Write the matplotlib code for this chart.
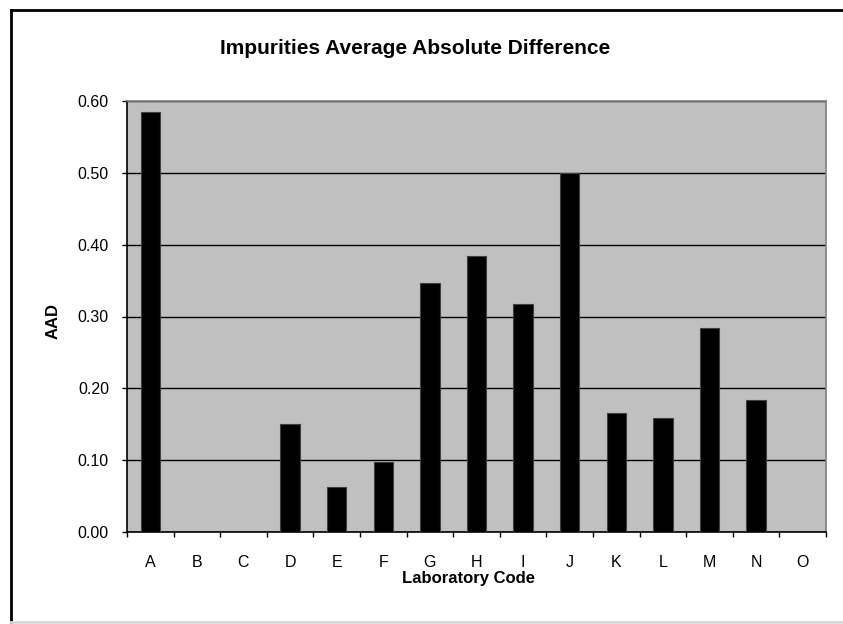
import matplotlib
matplotlib.use("Agg")
import matplotlib.pyplot as plt
from matplotlib.lines import Line2D
import numpy as np

# dane
labs = ["A", "B", "C", "D", "E", "F", "G", "H", "I", "J", "K", "L", "M", "N", "O"]
aad = [0.585, 0.0, 0.0, 0.151, 0.062, 0.098, 0.346, 0.384, 0.318, 0.500,
       0.165, 0.159, 0.284, 0.184, 0.0]
yticks = [0.0, 0.1, 0.2, 0.3, 0.4, 0.5, 0.6]

plt.rcParams["font.family"] = ["Liberation Sans", "DejaVu Sans"]

fig = plt.figure(figsize=(8.43, 6.24), dpi=100)
ax = fig.add_axes([127 / 843, 92 / 624, 699 / 843, 431 / 624])
ax.set_facecolor("#c0c0c0")

x = np.arange(len(labs))
ax.bar(x, aad, width=0.42, color="black", edgecolor="#404040", linewidth=0.8, zorder=3)

ax.set_xlim(-0.5, len(labs) - 0.5)
ax.set_ylim(0, 0.6)
ax.set_yticks(yticks)
ax.set_yticklabels([f"{v:.2f}" for v in yticks], fontsize=11.5)
ax.set_xticks(x)
ax.set_xticklabels(labs, fontsize=11.5)
ax.tick_params(axis="x", length=0, pad=16.5)
ax.set_xticks(np.arange(len(labs) + 1) - 0.5, minor=True)
ax.tick_params(axis="x", which="minor", length=3.6, width=1, color="black")
ax.tick_params(axis="y", length=3.6, width=1, pad=9.4)
ax.grid(axis="y", color="black", linewidth=1, zorder=1)

for s in ("top", "right"):
    ax.spines[s].set_color("#808080")
for s in ("left", "bottom"):
    ax.spines[s].set_color("black")
for s in ax.spines.values():
    s.set_linewidth(1.2)

ax.set_xlabel("Laboratory Code", fontsize=12, fontweight="bold", va="center")
ax.xaxis.set_label_coords(0.488, -46 / 431)
ax.set_ylabel("AAD", fontsize=12, fontweight="bold", va="center")
ax.yaxis.set_label_coords(-74 / 699, 0.49)
fig.text(0.493, 1 - 48 / 624, "Impurities Average Absolute Difference",
         ha="center", va="center", fontsize=15, fontweight="bold")

# ramka wykresu (lewa + gorna czarna, dolna jasnoszara)
fig.add_artist(Line2D([11 / 843, 11 / 843], [0, 1 - 10 / 624], color="black", lw=2,
                      transform=fig.transFigure))
fig.add_artist(Line2D([11 / 843, 1], [1 - 10 / 624, 1 - 10 / 624], color="black", lw=2,
                      transform=fig.transFigure))
fig.add_artist(Line2D([11 / 843, 1], [2 / 624, 2 / 624], color="#d8d8d8", lw=2,
                      transform=fig.transFigure))

fig.savefig("out.png", dpi=100)
